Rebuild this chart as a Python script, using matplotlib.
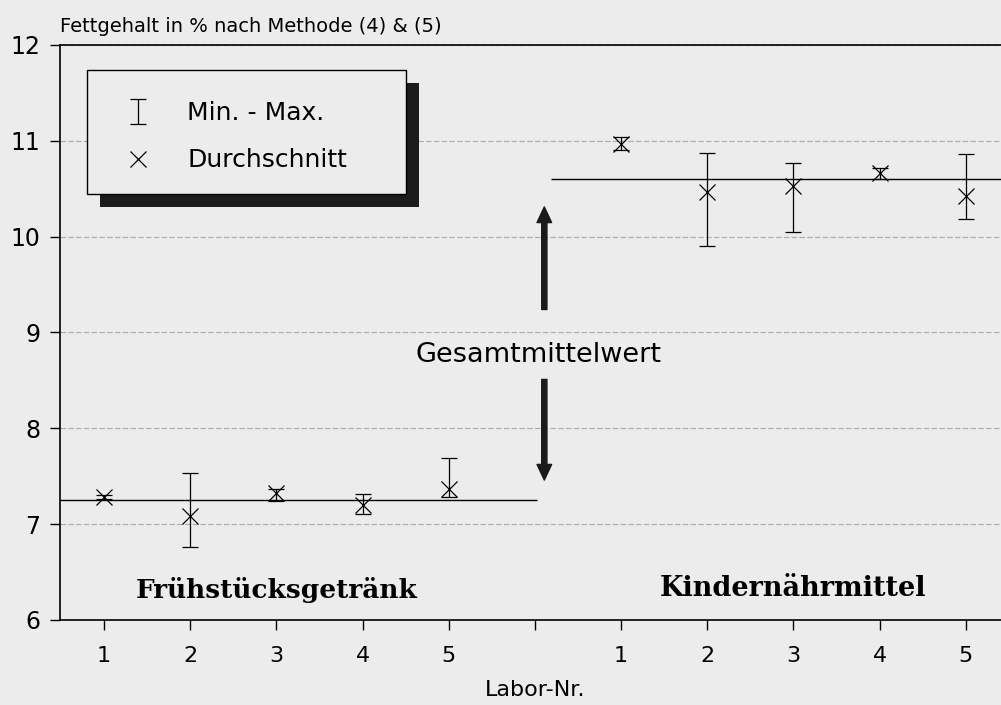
import matplotlib
matplotlib.use("Agg")
import matplotlib.pyplot as plt
from matplotlib.patches import Rectangle
import numpy as np

# Fettgehalt (%) je Labor, Methode (4) & (5)
labs = ["1", "2", "3", "4", "5"]
fg_mean = [7.28, 7.08, 7.32, 7.20, 7.37]   # Frühstücksgetränk
fg_min = [7.26, 6.76, 7.24, 7.11, 7.28]
fg_max = [7.30, 7.53, 7.37, 7.31, 7.69]
kn_mean = [10.97, 10.47, 10.53, 10.66, 10.42]   # Kindernährmittel
kn_min = [10.90, 9.90, 10.05, 10.60, 10.18]
kn_max = [11.04, 10.87, 10.77, 10.72, 10.86]
fg_overall = 7.25
kn_overall = 10.60

bg = "#ececec"
plt.rcParams["font.family"] = "DejaVu Sans"

fig = plt.figure(figsize=(10.01, 7.05), dpi=100, facecolor=bg)
ax = fig.add_axes([0.06, 0.1206, 0.94, 0.8156], facecolor=bg)

x1 = np.arange(1, 6)
x2 = np.arange(7, 12)

for xs, m, lo, hi in [(x1, fg_mean, fg_min, fg_max), (x2, kn_mean, kn_min, kn_max)]:
    m = np.array(m)
    err = [m - np.array(lo), np.array(hi) - m]
    eb = ax.errorbar(xs, m, yerr=err, fmt="none", ecolor="black",
                     elinewidth=0.9, capsize=6, capthick=0.9, zorder=3)
    mk, = ax.plot(xs, m, linestyle="none", marker="x", ms=11, mew=0.9,
                  color="black", zorder=4)

# Gesamtmittelwerte
ax.hlines(fg_overall, 0.49, 6.02, color="black", lw=1.0, zorder=2)
ax.hlines(kn_overall, 6.19, 11.41, color="black", lw=1.0, zorder=2)

arrow_x = 6.11
astyle = "simple,head_length=0.75,head_width=0.7,tail_width=0.25"
ax.annotate("", xy=(arrow_x, kn_overall - 0.29), xytext=(arrow_x, 9.24),
            arrowprops=dict(arrowstyle=astyle, mutation_scale=15, color="#1a1a1a",
                            shrinkA=0, shrinkB=0))
ax.annotate("", xy=(arrow_x, fg_overall + 0.21), xytext=(arrow_x, 8.51),
            arrowprops=dict(arrowstyle=astyle, mutation_scale=15, color="#1a1a1a",
                            shrinkA=0, shrinkB=0))
ax.text(6.04, 8.77, "Gesamtmittelwert", ha="center", va="center", fontsize=19.5)

ax.text(x1.mean(), 6.31, "Frühstücksgetränk", ha="center", va="center",
        family="DejaVu Serif", weight="bold", fontsize=19)
ax.text(x2.mean(), 6.33, "Kindernährmittel", ha="center", va="center",
        family="DejaVu Serif", weight="bold", fontsize=19.5)

# axes
ax.set_xlim(0.49, 11.41)
ax.set_ylim(6, 12)
ax.set_xticks(np.arange(1, 12))
ax.set_xticklabels(labs + [""] + labs)
ax.set_yticks(np.arange(6, 13))
ax.tick_params(axis="both", direction="out", length=7, width=1)
ax.tick_params(axis="x", pad=12, labelsize=16)
ax.tick_params(axis="y", pad=7, labelsize=17)
ax.spines["right"].set_visible(False)
for s in ["left", "top", "bottom"]:
    ax.spines[s].set_linewidth(1.2)
ax.yaxis.grid(True, color="#ababab", lw=0.8, linestyle=(0, (5, 2)))
ax.set_axisbelow(True)

ax.set_title("Fettgehalt in % nach Methode (4) & (5)", loc="left",
             fontsize=14, pad=9)
fig.text(0.5345, 0.0213, "Labor-Nr.", ha="center", va="center", fontsize=16)

# legend box with shadow
ax.add_patch(Rectangle((0.0422, 0.7183), 0.3393, 0.2156, transform=ax.transAxes,
                       facecolor="#1c1c1c", edgecolor="none", zorder=5))
ax.add_patch(Rectangle((0.0284, 0.7409), 0.3393, 0.2156, transform=ax.transAxes,
                       facecolor=bg, edgecolor="black", lw=1.0, zorder=6))
leg = ax.legend([eb, mk], ["Min. - Max.", "Durchschnitt"], loc="upper left",
                bbox_to_anchor=(0.067, 0.902), frameon=False, fontsize=18,
                handlelength=1.2, handletextpad=1.36, labelspacing=0.92,
                borderpad=0, borderaxespad=0)
leg.set_zorder(7)

fig.savefig("out.png", dpi=100, facecolor=bg)
